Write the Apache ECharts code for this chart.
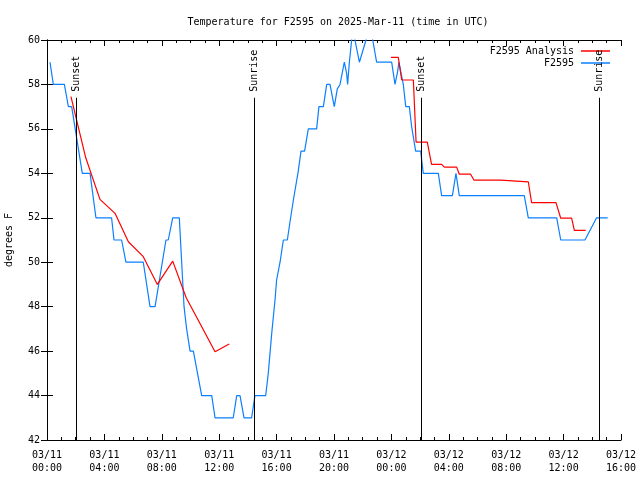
<!DOCTYPE html>
<html>
<head>
<meta charset="utf-8">
<script src="https://cdn.jsdelivr.net/npm/echarts@6/dist/echarts.min.js"></script>
<style>html,body{margin:0;padding:0;background:#fff}#c{width:640px;height:480px}</style>
</head>
<body>
<div id="c"></div>
<script>
// Hours since 03/11 00:00 UTC
var obsHours = [0.21,0.44,1.21,1.49,1.72,2.46,3.00,3.41,4.50,4.67,5.20,5.50,6.71,7.18,7.53,8.29,8.45,8.76,9.22,9.55,9.73,9.97,10.20,10.78,11.48,11.71,12.98,13.22,13.45,13.73,14.26,14.49,15.24,15.42,15.66,15.89,16.00,16.24,16.47,16.75,16.93,17.17,17.51,17.70,17.95,18.21,18.79,18.95,19.26,19.49,19.72,20.02,20.23,20.42,20.53,20.72,20.79,20.88,20.95,21.07,21.23,21.35,21.46,21.77,22.23,22.45,22.70,22.97,24.02,24.25,24.44,24.52,24.83,25.00,25.25,25.41,25.69,26.04,26.22,27.27,27.50,28.25,28.50,28.73,33.26,33.54,35.52,35.80,37.49,38.30,39.07];
var obsTemps = [59,58,58,57,57,54,54,52,52,51,51,50,50,48,48,51,51,52,52,48,47,46,46,44,44,43,43,44,44,43,43,44,44,45,46.8,48.3,49.2,50,51,51,51.8,52.8,54.1,55,55,56,56,57,57,58,58,57,57.8,58,58,59,59,58.5,58,59,60,60.6,60,59,60,60.6,60,59,59,58,58.6,59,58,57,57,56.1,55,55,54,54,53,53,54,53,53,52,52,51,51,52,52];

var anaHours1 = [1.67,2.70,3.69,4.74,5.67,6.71,7.69,8.76,9.70,10.70,11.71,12.70];
var anaTemps1 = [57.45,54.7,52.83,52.2,50.92,50.25,49.0,50.05,48.4,47.2,45.97,46.32];

var anaHours2 = [23.97,24.48,24.72,25.53,25.72,26.50,26.80,27.50,27.69,28.55,28.73,29.52,29.76,31.62,31.70,33.54,33.77,35.47,35.80,36.56,36.75,37.54];
var anaTemps2 = [59.22,59.22,58.2,58.2,55.4,55.4,54.4,54.4,54.28,54.28,53.96,53.96,53.69,53.69,53.62,53.62,52.68,52.68,51.98,51.98,51.43,51.43];

var sunHours = [2.02,14.45,26.08,38.44];
var sunLabels = ['Sunset','Sunrise','Sunset','Sunrise'];

var yTicks = [42,44,46,48,50,52,54,56,58,60];
var xTickHours = [0,4,8,12,16,20,24,28,32,36,40];

function pairs(xs, ys){ return xs.map(function(x,i){ return [x, ys[i]]; }); }
function fmtHour(h){
  var day = 11 + Math.floor(h/24);
  var hh = h % 24;
  return '03/' + day + '\n' + (hh<10?'0':'') + hh + ':00';
}

var FONT = '"DejaVu Sans Mono", "Liberation Mono", monospace';
var chart = echarts.init(document.getElementById('c'), null, {renderer:'canvas'});
var tickStyle = {color:'#000', width:1};
chart.setOption({
  animation:false,
  backgroundColor:'#fff',
  title:{
    text:'Temperature for F2595 on 2025-Mar-11 (time in UTC)',
    left:333, top:12, textAlign:'center',
    textStyle:{fontFamily:FONT, fontSize:10, fontWeight:'normal', color:'#000'}
  },
  legend:{
    data:['F2595 Analysis','F2595'],
    orient:'vertical', right:25, top:40, align:'right',
    icon:'rect', itemWidth:29, itemHeight:1.5, itemGap:0,
    textStyle:{fontFamily:FONT, fontSize:10, color:'#000', lineHeight:12, padding:[0,2,0,0]}
  },
  grid:{left:47, right:19, top:40, bottom:40, outerBoundsMode:'none', containLabel:false},
  xAxis:[{
    type:'value', min:0, max:40, interval:4, position:'bottom',
    axisLine:{lineStyle:{color:'#000', width:1}},
    axisTick:{inside:true, length:6, lineStyle:tickStyle},
    minorTick:{show:true, splitNumber:4, length:3, lineStyle:tickStyle},
    splitLine:{show:false},
    axisLabel:{formatter:function(v){return xTickHours.indexOf(v)>=0?fmtHour(v):'';}, fontFamily:FONT, fontSize:10, color:'#000', margin:9, lineHeight:13}
  },{
    type:'value', min:0, max:40, interval:4, position:'top',
    axisLine:{lineStyle:{color:'#000', width:1}},
    axisTick:{inside:true, length:6, lineStyle:tickStyle},
    minorTick:{show:true, splitNumber:4, length:3, lineStyle:tickStyle},
    splitLine:{show:false}, axisLabel:{show:false}
  }],
  yAxis:[{
    type:'value', min:42, max:60, interval:2, position:'left',
    name:'degrees F', nameLocation:'middle', nameRotate:90, nameGap:33,
    nameTextStyle:{fontFamily:FONT, fontSize:10, color:'#000'},
    axisLine:{show:true, lineStyle:{color:'#000', width:1}},
    axisTick:{show:true, inside:true, length:6, lineStyle:tickStyle},
    splitLine:{show:false},
    axisLabel:{formatter:function(v){return yTicks.indexOf(v)>=0?String(v):'';}, fontFamily:FONT, fontSize:10, color:'#000', margin:7}
  },{
    type:'value', min:42, max:60, interval:2, position:'right',
    axisLine:{show:true, lineStyle:{color:'#000', width:1}},
    axisTick:{show:true, inside:true, length:6, lineStyle:tickStyle},
    splitLine:{show:false}, axisLabel:{show:false}
  }],
  series:[
    {
      name:'F2595', type:'line', data:pairs(obsHours, obsTemps),
      symbol:'none', lineStyle:{color:'#0a7fff', width:1.2}, itemStyle:{color:'#0a7fff'}, z:2, clip:true
    },
    {
      name:'F2595 Analysis', type:'line', data:pairs(anaHours1, anaTemps1),
      symbol:'none', lineStyle:{color:'#ff0000', width:1.2}, itemStyle:{color:'#ff0000'}, z:3, clip:true
    },
    {
      name:'F2595 Analysis', type:'line', data:pairs(anaHours2, anaTemps2),
      symbol:'none', lineStyle:{color:'#ff0000', width:1.2}, itemStyle:{color:'#ff0000'}, z:3, clip:true
    },
    {
      name:'sun', type:'custom', z:4, silent:true,
      data:sunHours.map(function(h){return [h];}),
      renderItem:function(params, api){
        var x = api.value(0);
        var p0 = api.coord([x, 42]);
        var p1 = api.coord([x, 57.4]);
        var px = Math.round(p0[0]) + 0.5;
        return {type:'group', children:[
          {type:'line', shape:{x1:px, y1:p0[1], x2:px, y2:p1[1]}, style:{stroke:'#000', lineWidth:1}},
          {type:'text', x:px, y:p1[1]-6, rotation:Math.PI/2,
           style:{text:sunLabels[params.dataIndex], fill:'#000', fontFamily:FONT, fontSize:10, align:'left', verticalAlign:'middle'}}
        ]};
      }
    }
  ]
});
</script>
</body>
</html>
